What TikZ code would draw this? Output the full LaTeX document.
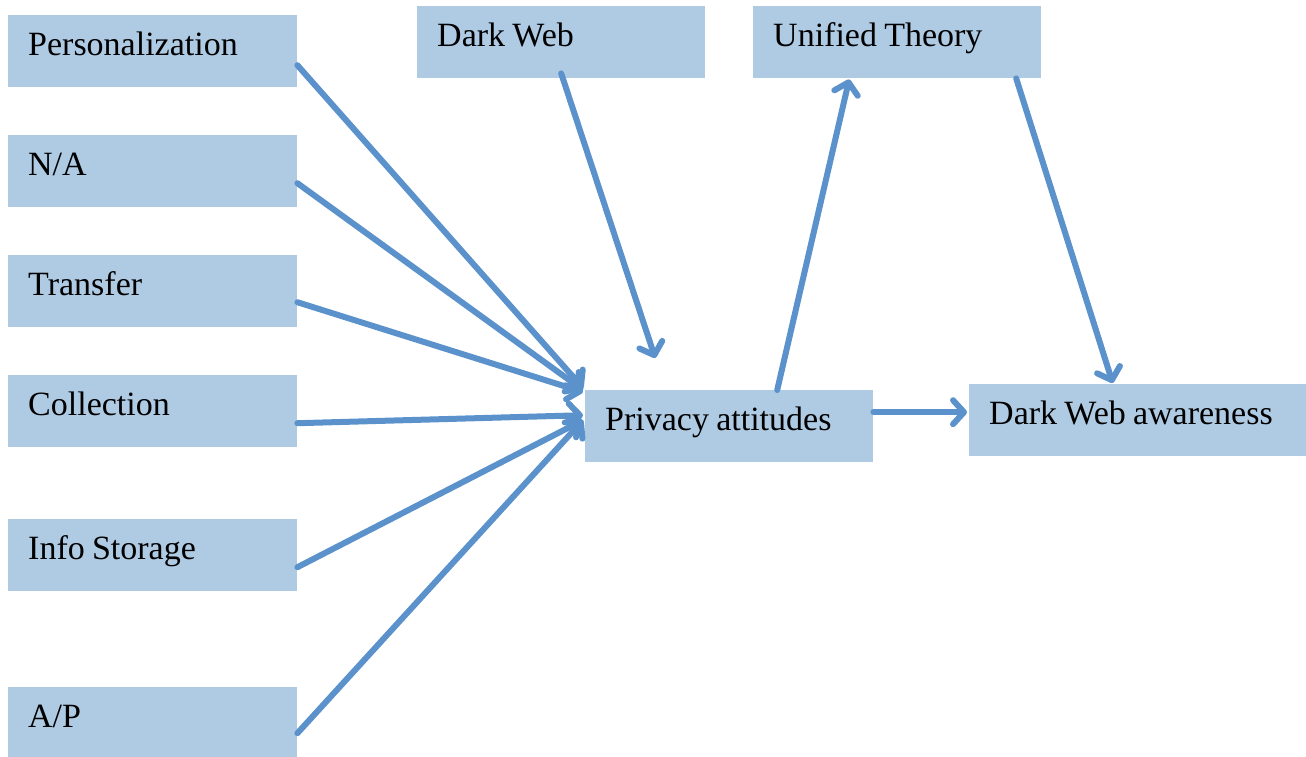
\documentclass[tikz,border=0pt]{standalone}
\usepackage{fontspec}
\setmainfont[WordSpace=0.85]{Liberation Serif}
\usetikzlibrary{arrows.meta}
\definecolor{boxc}{HTML}{AFCBE4}
\definecolor{arrc}{HTML}{5B92CB}
\begin{document}
\begin{tikzpicture}[x=1pt,y=-1pt,
  box/.style={fill=boxc, anchor=north west, inner xsep=20pt, inner ysep=0pt,
    text height=40pt, text depth=32pt, align=flush left,
    font=\fontsize{34}{40}\selectfont},
  conn/.style={draw=arrc, line width=6pt, line cap=round, line join=round,
    -{Straight Barb[length=11pt,width=24pt,line cap=round,line join=round]}}]
\useasboundingbox (0,0) rectangle (1306,756);
\node[box, text width=249pt] (pers) at (8,15) {Personalization};
\node[box, text width=249pt] (na) at (8,135) {N/A};
\node[box, text width=249pt] (tr) at (8,255) {Transfer};
\node[box, text width=249pt] (coll) at (8,375) {Collection};
\node[box, text width=249pt] (info) at (8,519) {Info Storage};
\node[box, text width=249pt] (ap) at (8,687) {A/P};
\node[box, text width=248pt] (dw) at (417,6) {Dark Web};
\node[box, text width=248pt] (ut) at (753,6) {Unified Theory};
\node[box, text width=248pt] (priv) at (585,390) {Privacy attitudes};
\node[box, text width=297pt] (dwa) at (969,384) {Dark Web awareness};
\draw[conn] ([yshift=-14pt]pers.east) -- ([xshift=-2pt,yshift=2pt]priv.north west);
\draw[conn] ([yshift=-12pt]na.east) -- ([xshift=-2pt]priv.north west);
\draw[conn] ([yshift=-11pt]tr.east) -- ([xshift=-2pt,yshift=-2pt]priv.north west);
\draw[conn] ([yshift=-12pt]coll.east) -- ([xshift=-2pt,yshift=11pt]priv.west);
\draw[conn] ([yshift=-12pt]info.east) -- ([xshift=-2pt,yshift=6pt]priv.west);
\draw[conn] ([yshift=-10pt]ap.east) -- ([xshift=-2pt,yshift=6pt]priv.west);
\draw[conn] ([yshift=5pt]dw.south) -- ([xshift=-74pt,yshift=32pt]priv.north);
\draw[conn] ([xshift=48pt]priv.north) -- ([xshift=-48pt,yshift=-1pt]ut.south);
\draw[conn] ([xshift=119pt]ut.south) -- ([xshift=-25pt,yshift=1pt]dwa.north);
\draw[conn] ([yshift=14pt]priv.east) -- ([xshift=-2pt,yshift=8pt]dwa.west);
\end{tikzpicture}
\end{document}
